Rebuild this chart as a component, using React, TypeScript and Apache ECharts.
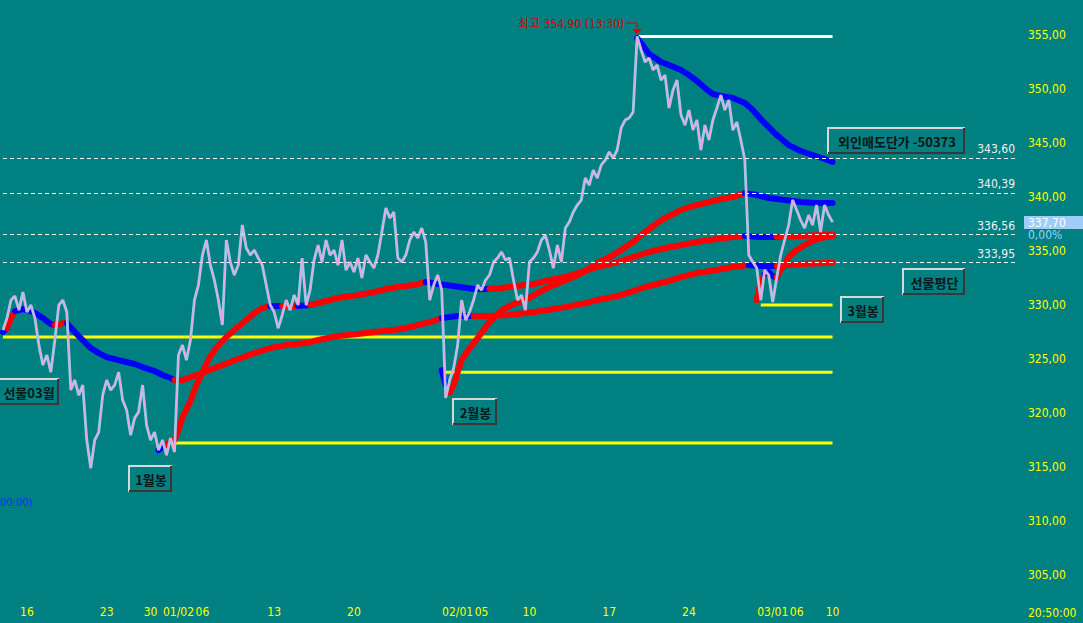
import React, { useEffect, useRef } from "react";
import * as echarts from "echarts";

// ---------- data ----------
const SLOT_COUNT = 255; // time slots on the x axis (last drawn slot = 208)
const LAST_SLOT = 208;
const tickSlots = [6, 26, 37, 44, 50, 68, 88, 114, 120, 132, 152, 172, 193, 199, 208];
const tickTexts = ["16", "23", "30", "01/02", "06", "13", "20", "02/01", "05", "10", "17", "24", "03/01", "06", "10"];
const yTickValues = [305, 310, 315, 320, 325, 330, 335, 340, 345, 350, 355];

const price = [
  327.71, 328.82, 330.49, 330.86, 329.56, 331.23, 329.38, 330.03, 328.82, 326.32,
  324.47, 325.40, 323.82, 326.79, 330.03, 330.49, 329.38, 322.16, 323.08, 321.69,
  322.62, 317.53, 314.94, 317.53, 318.27, 321.69, 323.08, 322.16, 322.62, 323.82,
  321.23, 320.31, 317.99, 319.56, 320.12, 322.62, 318.92, 317.53, 318.27, 316.60,
  317.53, 316.14, 317.71, 316.42, 325.40, 326.32, 324.94, 326.79, 330.49, 331.88,
  334.66, 336.05, 333.73, 332.34, 330.49, 328.18, 336.05, 334.01, 332.81, 333.73,
  337.44, 335.31, 334.66, 335.12, 334.38, 333.73, 331.88, 330.03, 329.38, 327.90,
  329.10, 330.49, 329.56, 330.95, 330.03, 334.38, 330.03, 331.42, 334.19, 335.58,
  334.01, 336.05, 334.66, 335.12, 333.73, 336.05, 333.27, 334.01, 333.08, 334.38,
  332.53, 334.66, 334.01, 333.45, 334.66, 336.79, 339.01, 338.08, 338.64, 334.38,
  334.01, 334.66, 336.05, 336.79, 336.23, 337.16, 335.86, 330.49, 331.88, 332.81,
  331.42, 321.42, 323.08, 324.19, 326.32, 330.49, 328.64, 329.38, 330.49, 331.88,
  331.42, 332.34, 332.81, 334.01, 334.38, 334.94, 334.19, 334.38, 332.34, 330.49,
  330.95, 329.56, 334.01, 334.38, 334.94, 336.05, 336.51, 335.12, 333.45, 335.58,
  334.01, 337.16, 337.71, 338.64, 339.29, 339.75, 341.79, 341.14, 342.53, 341.79,
  342.99, 343.45, 344.20, 343.64, 344.38, 346.42, 347.16, 347.34, 347.90, 354.90,
  353.64, 352.53, 352.90, 351.79, 352.25, 350.86, 351.32, 348.27, 349.94, 350.86,
  347.62, 346.69, 348.08, 346.23, 347.16, 344.38, 346.69, 345.31, 347.16, 348.27,
  349.47, 348.08, 349.01, 346.23, 346.97, 345.31, 343.45, 334.66, 334.01, 333.45,
  330.49, 333.27, 332.81, 330.31, 332.53, 334.66, 336.05, 337.44, 339.75, 338.83,
  337.90, 337.16, 338.36, 337.44, 339.29, 336.79, 339.29, 338.36, 337.70,
];

// moving-average style lines: [slot, value]
const maA = [
  [0, 327.53], [1, 327.9], [2, 328.82], [3, 329.47], [5, 329.66], [7, 329.47], [8, 329.29],
  [10, 328.82], [12, 328.27], [13, 328.18], [14, 328.27], [15, 328.36], [16, 328.36],
  [18, 327.53], [20, 326.79], [22, 326.05], [24, 325.58], [26, 325.21], [28, 325.03],
  [30, 324.84], [33, 324.57], [35, 324.29], [38, 323.92], [40, 323.55], [42, 323.27],
  [43, 323.08], [45, 323.08], [47, 323.36], [50, 323.73], [53, 324.19], [55, 324.47],
  [59, 325.03], [63, 325.58], [67, 326.05], [71, 326.32], [76, 326.51], [79, 326.79],
  [84, 327.16], [89, 327.34], [93, 327.53], [98, 327.71], [101, 327.9], [105, 328.27],
  [108, 328.55], [110, 328.82], [114, 329.01], [118, 329.01], [122, 329.01], [127, 329.1],
  [131, 329.29], [135, 329.47], [141, 329.84], [145, 330.12], [149, 330.49], [154, 330.86],
  [158, 331.32], [161, 331.7], [166, 332.16], [170, 332.62], [174, 332.99], [179, 333.27],
  [183, 333.55], [187, 333.73], [190, 333.64], [194, 333.64], [200, 333.82], [208, 333.95],
];
const maABlue = [[0, 1], [3, 13], [16, 43], [110, 118], [187, 194]];

const maB = [
  [39, 316.6], [40, 316.88], [41, 317.16], [43, 317.53], [44, 318.46], [45, 319.66],
  [47, 321.14], [48, 322.16], [50, 323.82], [52, 325.31], [54, 326.32], [56, 327.07],
  [58, 327.71], [61, 328.64], [63, 329.29], [65, 329.75], [67, 329.94], [70, 329.94],
  [74, 329.94], [77, 330.03], [80, 330.31], [84, 330.68], [89, 330.95], [93, 331.23],
  [96, 331.51], [99, 331.7], [103, 331.88], [106, 332.16], [109, 331.97], [113, 331.79],
  [118, 331.51], [122, 331.51], [125, 331.6], [129, 331.79], [133, 331.97], [136, 332.25],
  [141, 332.62], [145, 333.08], [149, 333.55], [154, 334.01], [158, 334.47], [162, 334.94],
  [166, 335.31], [170, 335.58], [174, 335.86], [179, 336.14], [183, 336.33], [186, 336.42],
  [190, 336.33], [194, 336.33], [200, 336.42], [208, 336.56],
];
const maBBlue = [[39, 41], [67, 70], [74, 77], [106, 122], [186, 194]];

const maC = [
  [110, 324.01], [111, 322.62], [112, 321.97], [113, 322.62], [114, 323.82], [115, 324.94],
  [117, 326.05], [119, 326.97], [122, 328.45], [125, 329.56], [128, 330.12], [131, 330.49],
  [134, 331.14], [137, 331.7], [140, 332.16], [143, 332.62], [146, 333.18], [149, 333.92],
  [152, 334.47], [155, 335.12], [158, 335.86], [160, 336.51], [162, 337.07], [164, 337.62],
  [166, 338.08], [168, 338.45], [170, 338.83], [173, 339.2], [177, 339.57], [180, 339.84],
  [183, 340.03], [186, 340.39], [189, 340.21], [192, 339.94], [196, 339.75], [200, 339.57],
  [204, 339.47], [208, 339.47],
];
const maCBlue = [[110, 112], [186, 208]];

const maD = [
  [159, 354.75], [160, 354.29], [162, 353.27], [165, 352.53], [167, 352.25], [170, 351.79],
  [172, 351.32], [174, 350.77], [176, 350.12], [178, 349.57], [180, 349.38], [183, 349.2],
  [186, 348.73], [188, 348.08], [190, 347.25], [192, 346.51], [194, 345.77], [197, 344.84],
  [200, 344.29], [203, 343.92], [206, 343.55], [208, 343.27],
];
const maDBlue = [[159, 208]];

const maE = [
  [189, 330.49], [190, 332.16], [191, 332.9], [192, 333.08], [193, 332.71], [194, 332.62],
  [195, 333.27], [197, 334.47], [199, 335.12], [201, 335.58], [203, 335.95], [205, 336.23],
  [208, 336.42],
];
const maEBlue = [[191, 194]];

const refLevels = [343.6, 340.39, 336.56, 333.95];
const monthLevels = [327.07, 317.25, 323.8, 330.03];
const monthStarts = [0, 43, 111, 190];
const highLevel = 354.9;
const highSlot = 159;
const lastPrice = 337.7;
const lastChange = 0.0;

const boxTexts = ["선물03월", "1월봉", "2월봉", "3월봉", "선물평단", "외인매도단가 -50373"];

// ---------- styling ----------
const BG = "#008080";
const RED = "#ff0000";
const BLUE = "#0000ff";
const YELLOW = "#ffff00";
const NUM_FONT = '"Liberation Sans Narrow", "DejaVu Sans Condensed", "Liberation Sans", "Noto Sans CJK KR", sans-serif';
const KR_FONT = '"Noto Sans CJK KR", "Noto Sans", sans-serif';

const fmt = (v: number) => v.toFixed(2).replace(".", ",");

const boxLayout = [
  [-3, 378, 62, 27],
  [128, 465, 44, 27],
  [452, 398, 45, 27],
  [840, 296, 44, 27],
  [902, 268, 63, 27],
  [827, 127, 138, 27],
];

function segments(points: number[][], blueRanges: number[][]) {
  const isBlue = (m: number) => blueRanges.some(([a, b]) => m >= a && m <= b);
  const segs: { color: string; data: number[][] }[] = [];
  let cur: { color: string; data: number[][] } | null = null;
  for (let k = 0; k < points.length - 1; k++) {
    const m = (points[k][0] + points[k + 1][0]) / 2;
    const c = isBlue(m) ? BLUE : RED;
    if (!cur || cur.color !== c) {
      cur = { color: c, data: [points[k]] };
      segs.push(cur);
    }
    cur.data.push(points[k + 1]);
  }
  return segs;
}

function box(text: string, [x, y, w, h]: number[]) {
  return {
    type: "group",
    children: [
      { type: "rect", shape: { x, y, width: w, height: h }, style: { fill: BG } },
      {
        type: "polyline",
        shape: { points: [[x + 1, y + h], [x + 1, y + 1], [x + w, y + 1]] },
        style: { stroke: "#d8d8d8", lineWidth: 2, fill: null },
      },
      {
        type: "polyline",
        shape: { points: [[x + w - 1, y + 1], [x + w - 1, y + h - 1], [x + 1, y + h - 1]] },
        style: { stroke: "#383838", lineWidth: 2, fill: null },
      },
      {
        type: "text",
        x: x + w / 2 + 1,
        y: y + h / 2 + 1,
        style: {
          text,
          fill: "#0c1616",
          font: `bold 13px ${KR_FONT}`,
          align: "center",
          verticalAlign: "middle",
          textAlign: "center",
          textVerticalAlign: "middle",
        },
      },
    ],
  };
}

export default function App() {
  const ref = useRef<HTMLDivElement>(null);

  useEffect(() => {
    if (!ref.current) return;
    const chart = echarts.init(ref.current, undefined, { renderer: "svg" });

    const categories = Array.from({ length: SLOT_COUNT }, (_, i) => "s" + i);
    const labelMap: Record<number, string> = {};
    tickSlots.forEach((s, i) => (labelMap[s] = tickTexts[i]));

    const series: any[] = [];

    // yellow month levels & high level
    monthLevels.forEach((v, i) => {
      series.push({
        type: "line",
        data: [[monthStarts[i], v], [LAST_SLOT, v]],
        symbol: "none",
        silent: true,
        lineStyle: { color: YELLOW, width: 3 },
        z: 2,
      });
    });
    series.push({
      type: "line",
      data: [[highSlot, highLevel], [LAST_SLOT, highLevel]],
      symbol: "none",
      silent: true,
      lineStyle: { color: "#ffffff", width: 3 },
      z: 2,
    });

    const mas: [number[][], number[][]][] = [
      [maA, maABlue],
      [maB, maBBlue],
      [maC, maCBlue],
      [maD, maDBlue],
      [maE, maEBlue],
    ];
    mas.forEach(([pts, blue]) => {
      segments(pts, blue).forEach((seg) => {
        series.push({
          type: "line",
          data: seg.data,
          symbol: "none",
          silent: true,
          lineStyle: { color: seg.color, width: 6, cap: "round", join: "round" },
          z: 3,
        });
      });
    });

    series.push({
      type: "line",
      data: price,
      symbol: "none",
      silent: true,
      lineStyle: { color: "#8ed2f2", width: 2.8 },
      z: 4,
      markLine: {
        silent: true,
        symbol: ["none", "none"],
        animation: false,
        lineStyle: { color: "#ffffff", type: [4, 3], width: 1 },
        label: {
          position: "insideEndTop",
          color: "#f2f2f2",
          fontSize: 12,
          fontFamily: NUM_FONT,
          distance: [1, 3],
          formatter: (p: any) => fmt(p.value),
        },
        data: refLevels.map((v) => ({ yAxis: v })),
      },
    });
    series.push({
      type: "line",
      data: price,
      symbol: "none",
      silent: true,
      lineStyle: { color: "#eea4d8", width: 1.4 },
      z: 5,
    });

    const graphic: any[] = boxTexts.map((t, i) => box(t, boxLayout[i]));
    graphic.push(
      {
        type: "text",
        x: 518,
        y: 24,
        style: {
          text: `최고 ${fmt(highLevel)} (13:30)`,
          fill: "#d40000",
          font: `12px ${NUM_FONT}`,
          verticalAlign: "middle",
          textVerticalAlign: "middle",
        },
      },
      {
        type: "polyline",
        shape: { points: [[626, 23], [637, 23], [637, 30]] },
        style: { stroke: "#e00000", lineWidth: 1, fill: null },
      },
      {
        type: "polygon",
        shape: { points: [[632, 29], [642, 29], [637, 34]] },
        style: { fill: "#e00000" },
      },
      {
        type: "text",
        x: 0,
        y: 502,
        style: {
          text: "00:00)",
          fill: "#1a2cff",
          font: `11px ${NUM_FONT}`,
          verticalAlign: "middle",
          textVerticalAlign: "middle",
        },
      },
      {
        type: "rect",
        shape: { x: 1024, y: 216, width: 59, height: 13 },
        style: { fill: "#9fcdf7" },
      },
      {
        type: "text",
        x: 1028,
        y: 222.5,
        style: {
          text: fmt(lastPrice),
          fill: "#ffffff",
          font: `12px ${NUM_FONT}`,
          verticalAlign: "middle",
          textVerticalAlign: "middle",
        },
      },
      {
        type: "text",
        x: 1028,
        y: 235,
        style: {
          text: fmt(lastChange) + "%",
          fill: "#9fd2ff",
          font: `12px ${NUM_FONT}`,
          verticalAlign: "middle",
          textVerticalAlign: "middle",
        },
      },
      {
        type: "text",
        x: 1028,
        y: 613,
        style: {
          text: "20:50:00",
          fill: YELLOW,
          font: `12px ${NUM_FONT}`,
          verticalAlign: "middle",
          textVerticalAlign: "middle",
        },
      }
    );

    chart.setOption({
      animation: false,
      backgroundColor: BG,
      grid: { left: 0, right: 67, top: 0, bottom: 26, containLabel: false },
      xAxis: {
        type: "category",
        data: categories,
        boundaryGap: false,
        axisLine: { show: false },
        axisTick: { show: false },
        splitLine: { show: false },
        axisLabel: {
          interval: 0,
          color: YELLOW,
          fontSize: 12,
          fontFamily: NUM_FONT,
          margin: 9,
          formatter: (_v: string, idx: number) => labelMap[idx] || "",
        },
      },
      yAxis: {
        type: "value",
        position: "right",
        min: 303,
        max: 358.27,
        axisLine: { show: false },
        axisTick: { show: false },
        splitLine: { show: false },
        axisLabel: {
          customValues: yTickValues,
          color: YELLOW,
          fontSize: 12,
          fontFamily: NUM_FONT,
          margin: 12,
          formatter: (v: number) => fmt(v),
        },
      },
      series,
      graphic,
    });

    return () => chart.dispose();
  }, []);

  return (
    <div
      ref={ref}
      style={{ position: "fixed", left: 0, top: 0, width: 1083, height: 623, background: BG }}
    />
  );
}
